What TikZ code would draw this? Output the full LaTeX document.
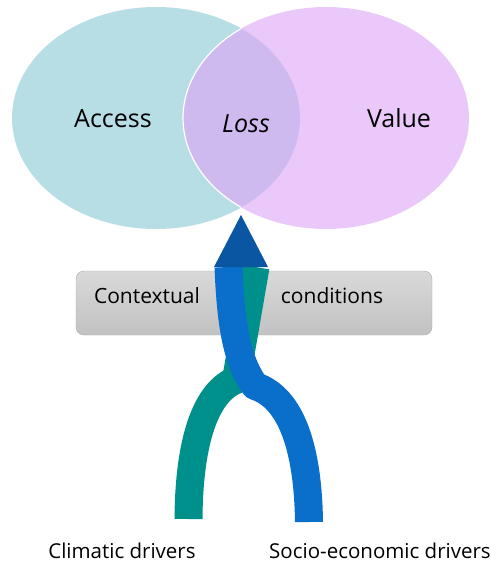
\documentclass[tikz,border=0pt]{standalone}
\usepackage{fontspec}
\setmainfont{Open Sans}
\definecolor{accessblue}{HTML}{B7DDE5}
\definecolor{valuepink}{HTML}{EAC9FA}
\definecolor{losspurple}{HTML}{CFBAF0}
\definecolor{strandteal}{HTML}{00908C}
\definecolor{strandblue}{HTML}{0A6FCB}
\definecolor{headblue}{HTML}{0B56A2}
\tikzset{
  strand/.style={line width=28pt, line join=round},
  setlbl/.style={anchor=base, inner sep=0pt, font=\fontsize{25}{30}\selectfont},
  barlbl/.style={anchor=base, inner sep=0pt, font=\fontsize{21}{25}\selectfont},
  drvlbl/.style={anchor=base, inner sep=0pt, font=\fontsize{20.5}{24}\selectfont},
}
\begin{document}
\begin{tikzpicture}[x=1pt,y=-1pt]
  \useasboundingbox (0,0) rectangle (490,562);
  % the two sets and their overlap
  \fill [accessblue] (156,118) ellipse [x radius=144, y radius=111];
  \fill [valuepink] (326,118) ellipse [x radius=143, y radius=111];
  \begin{scope}
    \clip (156,118) ellipse [x radius=144, y radius=111];
    \fill [losspurple] (326,118) ellipse [x radius=143, y radius=111];
    \draw [white, line width=1.2pt] (326,118) ellipse [x radius=143, y radius=111];
  \end{scope}
  \node (access) [setlbl] at (113,127) {Access};
  \node (loss) [setlbl] at (246,132) {\itshape Loss};
  \node (value) [setlbl] at (399,127) {Value};
  % bar behind the strands
  \node (ctx) [draw=black!33, rounded corners=8pt, top color=black!15, bottom color=black!24,
    minimum width=356pt, minimum height=64pt] at (254,303) {};
  \node (ctxl) [barlbl] at (147,303) {Contextual};
  \node (ctxr) [barlbl] at (332,303) {conditions};
  % drivers
  \node (clim) [drvlbl] at (122,558) {Climatic drivers};
  \node (socio) [drvlbl] at (380,558) {Socio-economic drivers};
  \coordinate (climend) at (188.5,519);
  \coordinate (socioend) at (309,522);
  \coordinate (climtop) at (255.5,267);
  \coordinate (sociotop) at (228.5,267);
  \coordinate (tip) at (241,215);
  \draw [strand, strandteal] (climtop) -- (236,380)
    .. controls (206,392) and (189,440) .. (climend);
  \draw [strand, strandblue] (sociotop) .. controls (231,330) and (238,362) .. (255,386)
    .. controls (292,398) and (308,450) .. (socioend);
  \fill [headblue] (214,267) -- (268,267) -- (tip) -- cycle;
\end{tikzpicture}
\end{document}
